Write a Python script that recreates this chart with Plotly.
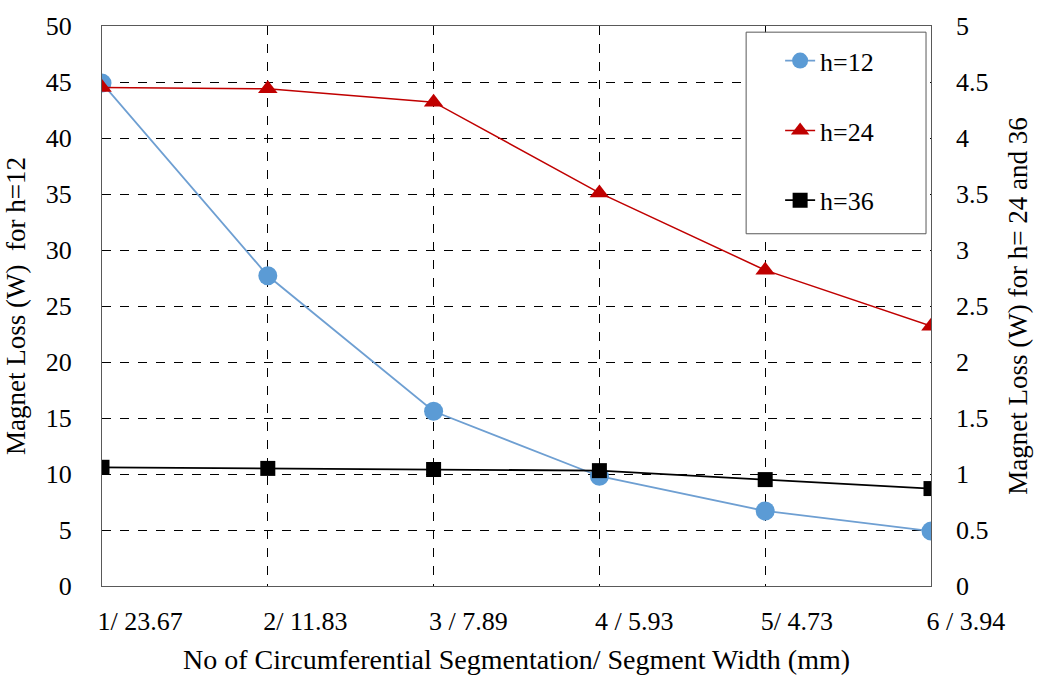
import plotly.graph_objects as go

categories = ["1/ 23.67", "2/ 11.83", "3 / 7.89", "4 / 5.93", "5/ 4.73", "6 / 3.94"]
h12 = [44.9, 27.7, 15.6, 9.8, 6.7, 4.9]
h24 = [4.45, 4.44, 4.32, 3.51, 2.82, 2.32]
h36 = [1.06, 1.05, 1.04, 1.03, 0.95, 0.87]
left_ticks = [0, 5, 10, 15, 20, 25, 30, 35, 40, 45, 50]
right_ticks = [0, 0.5, 1, 1.5, 2, 2.5, 3, 3.5, 4, 4.5, 5]
right_tick_text = ["0", "0.5", "1", "1.5", "2", "2.5", "3", "3.5", "4", "4.5", "5"]

FONT = "Liberation Serif"

fig = go.Figure()
fig.add_trace(go.Scatter(x=categories, y=h12, name="h=12", mode="lines+markers",
                         line=dict(color="#6E9FD2", width=1.8),
                         marker=dict(symbol="circle", size=19, color="#5B9BD5"),
                         legendgroup="a"))
fig.add_trace(go.Scatter(x=categories, y=h24, name="h=24", mode="lines+markers", yaxis="y2",
                         line=dict(color="#C00000", width=1.5),
                         marker=dict(symbol="triangle-up", size=17, color="#C00000"),
                         legendgroup="b"))
fig.add_trace(go.Scatter(x=categories, y=h36, name="h=36", mode="lines+markers", yaxis="y2",
                         line=dict(color="#000000", width=1.8),
                         marker=dict(symbol="square", size=15, color="#000000"),
                         legendgroup="c"))

# legend frame
fig.add_shape(type="rect", xref="paper", yref="paper",
              x0=0.777, x1=0.994, y0=0.629, y1=0.989,
              line=dict(color="#595959", width=1), fillcolor="white", layer="above")

fig.update_layout(
    width=1040, height=682,
    margin=dict(l=102, r=109, t=22, b=96),
    paper_bgcolor="white", plot_bgcolor="white",
    font=dict(family=FONT, size=26, color="black"),
    showlegend=True,
    legend=dict(x=0.818, y=0.98, xanchor="left", yanchor="top",
                bgcolor="rgba(0,0,0,0)", borderwidth=0,
                font=dict(family=FONT, size=26, color="black"), tracegroupgap=33,
                itemwidth=30),
    xaxis=dict(type="category", range=[0, 5], showgrid=True,
               gridcolor="black", griddash="dash", gridwidth=1,
               showline=True, linecolor="#595959", linewidth=1, mirror=True,
               ticks="", ticklabelposition="outside right", ticklabelstandoff=12,
               ticklabelshift=-5,
               tickfont=dict(family=FONT, size=26, color="black"),
               title=dict(text="No of Circumferential Segmentation/ Segment Width (mm)",
                          font=dict(family=FONT, size=28, color="black"), standoff=14)),
    yaxis=dict(range=[0, 50], tickvals=left_ticks, showgrid=True,
               gridcolor="black", griddash="dash", gridwidth=1,
               showline=True, linecolor="#595959", linewidth=1, mirror=True,
               zeroline=False, ticks="", ticklabelstandoff=24,
               tickfont=dict(family=FONT, size=26, color="black"),
               title=dict(text="Magnet Loss (W)  for h=12",
                          font=dict(family=FONT, size=27, color="black"), standoff=12)),
    yaxis2=dict(range=[0, 5], tickvals=right_ticks, ticktext=right_tick_text,
                overlaying="y", side="right", showgrid=False, zeroline=False,
                showline=False, ticks="", ticklabelstandoff=24,
                tickfont=dict(family=FONT, size=26, color="black"),
                title=dict(text="Magnet Loss (W) for h= 24 and 36",
                           font=dict(family=FONT, size=27, color="black"), standoff=20)),
)

fig.write_html("out.html")
